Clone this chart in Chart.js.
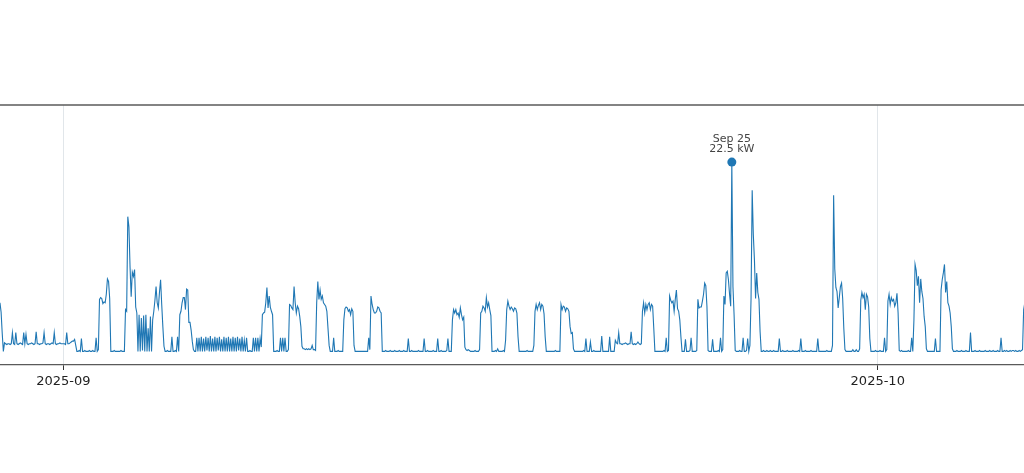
<!DOCTYPE html>
<html>
<head>
<meta charset="utf-8">
<title>Power draw, Aug 29 - Oct 6 2025</title>
<script src="https://cdn.jsdelivr.net/npm/chart.js@4.4.1/dist/chart.umd.min.js"></script>
<style>
  html, body { margin: 0; padding: 0; background: #fff; }
  canvas { display: block; }
</style>
</head>
<body>

<canvas id="myChart" width="1024" height="473"></canvas>

<script>
    // hourly power (kW), one row per day; the first row starts Aug 29 16:00
    const firstDay = -3;      // Aug 29, counted in days from Sep 1
    const firstHour = 16;
    const kwRows = [
        [6.0,4.9,2.4,0.3,1.3,1.2,1.1,1.2],                                                                   // Aug 29
        [1.2,1.1,1.2,2.5,1.2,1.1,2.5,1.2,1.1,1.2,1.3,1.2,1.1,2.5,1.2,2.3,1.2,1.1,1.2,1.2,1.3,1.2,1.1,1.2],     // Aug 30
        [2.6,1.2,1.2,1.1,1.2,1.2,1.3,2.5,1.2,1.1,1.2,1.2,1.1,1.2,1.3,1.2,2.5,1.2,1.1,1.2,1.2,1.3,1.2,1.2],     // Aug 31
        [1.2,1.2,1.1,2.5,1.2,1.2,1.3,1.4,1.5,1.5,1.7,1.0,0.3,0.3,0.4,0.3,1.8,0.3,0.3,0.4,0.3,0.3,0.3,0.4],     // Sep 1
        [0.3,0.3,0.4,0.3,0.3,1.9,0.3,0.5,6.4,6.6,6.5,5.9,6.1,6.0,7.0,8.8,8.5,6.5,0.3,0.3,0.3,0.4,0.3,0.3],     // Sep 2
        [0.3,0.3,0.3,0.4,0.3,0.3,0.3,5.2,5.0,16.1,14.9,10.2,6.7,9.6,9.1,9.9,5.5,4.8,0.3,4.6,0.3,4.2,0.4,4.5],  // Sep 3
        [0.3,4.6,0.3,3.0,0.3,4.4,0.3,4.0,5.0,6.3,7.9,6.0,5.4,7.2,8.7,5.8,3.2,0.9,0.3,0.3,0.4,0.3,0.3,0.3],     // Sep 4
        [2.0,0.3,0.3,0.4,0.3,2.0,0.3,4.6,5.0,6.0,6.6,6.6,5.2,7.6,7.5,3.7,3.7,2.8,1.5,0.5,0.3,0.3,1.9,0.3],     // Sep 5
        [1.9,0.3,2.0,0.3,1.8,0.3,2.0,0.4,1.9,0.3,2.1,0.3,1.8,0.3,2.0,0.3,1.9,0.4,2.0,0.3,1.7,0.3,2.0,0.3],     // Sep 6
        [1.9,0.3,2.0,0.3,1.8,0.3,2.0,0.3,1.9,0.3,2.0,0.4,1.8,0.3,2.0,0.3,1.6,0.3,1.9,0.3,0.3,0.4,0.3,0.3],     // Sep 7
        [1.9,0.3,1.9,0.3,1.9,0.3,1.8,0.8,4.6,4.8,4.9,6.0,7.8,5.4,6.8,5.5,5.0,4.6,0.3,0.3,0.3,0.4,0.3,0.3],     // Sep 8
        [1.9,0.3,1.9,0.3,1.9,0.3,0.3,0.5,5.8,5.7,5.4,5.2,7.9,6.0,4.8,5.6,5.3,4.4,3.2,0.9,0.6,0.6,0.5,0.6],     // Sep 9
        [0.5,0.6,0.5,0.6,1.0,0.5,0.5,0.4,6.0,8.5,6.4,7.5,6.4,6.8,6.0,5.8,5.6,5.0,3.0,1.0,0.3,0.3,0.3,1.9],     // Sep 10
        [0.3,0.3,0.3,0.4,0.3,0.3,0.3,0.3,4.0,5.3,5.5,5.4,5.0,5.2,4.6,5.3,5.0,1.0,0.3,0.3,0.3,0.3,0.3,0.3],     // Sep 11
        [0.3,0.3,0.3,0.3,0.3,0.3,1.9,0.5,6.8,5.8,5.2,4.8,4.8,5.0,5.5,5.4,5.0,4.8,0.3,0.3,0.3,0.4,0.3,0.3],     // Sep 12
        [0.3,0.4,0.3,0.3,0.3,0.4,0.3,0.3,0.3,0.4,0.3,0.3,0.3,0.4,0.3,0.3,0.3,1.8,0.3,0.3,0.4,0.3,0.3,0.3],     // Sep 13
        [0.3,0.3,0.4,0.3,0.3,0.3,0.3,1.8,0.3,0.3,0.4,0.3,0.3,0.3,0.3,0.4,0.3,0.3,0.3,1.8,0.3,0.3,0.4,0.3],     // Sep 14
        [0.3,0.3,0.3,0.4,1.8,0.3,0.3,0.3,4.0,5.2,4.8,5.2,4.6,4.8,4.3,5.4,4.6,4.0,4.3,0.8,0.5,0.4,0.5,0.4],     // Sep 15
        [0.3,0.3,0.3,0.3,0.4,0.3,0.3,0.3,0.5,4.8,5.0,5.6,5.4,5.0,6.6,5.5,6.0,5.2,4.5,0.3,0.3,0.3,0.4,0.3],     // Sep 16
        [0.6,0.3,0.3,0.3,0.3,0.4,0.3,1.6,5.2,6.2,5.6,5.2,5.5,5.3,5.0,5.4,5.3,4.8,2.0,0.3,0.3,0.3,0.3,0.3],     // Sep 17
        [0.3,0.3,0.4,0.3,0.3,0.3,0.3,0.3,1.0,5.0,5.8,5.2,5.7,6.0,5.2,5.8,5.6,4.7,2.0,0.3,0.3,0.3,0.3,0.3],     // Sep 18
        [0.3,0.3,0.3,0.4,0.3,0.3,0.3,0.3,5.8,5.2,5.6,5.5,5.0,5.4,5.3,5.0,3.2,2.4,2.5,0.6,0.3,0.3,0.3,0.3],     // Sep 19
        [0.3,0.3,0.3,0.3,0.4,0.3,1.8,0.3,0.3,0.3,1.4,0.3,0.3,0.4,0.3,0.3,0.3,0.3,0.3,0.3,2.1,0.3,0.3,0.3],     // Sep 20
        [0.3,0.3,0.3,2.0,0.3,0.3,0.3,0.3,1.6,1.3,1.2,2.5,1.2,1.2,1.1,1.2,1.2,1.3,1.2,1.1,1.2,1.2,2.6,1.2],     // Sep 21
        [1.1,1.2,1.1,1.2,1.4,1.2,1.1,1.2,5.0,6.0,4.8,5.8,5.2,5.8,6.0,5.2,5.8,5.6,3.0,0.3,0.3,0.3,0.3,0.3],     // Sep 22
        [0.3,0.3,0.3,0.4,0.3,1.9,0.3,0.4,6.8,6.3,6.0,6.2,5.0,6.4,7.5,5.3,5.0,4.0,2.0,0.3,0.3,0.3,1.7,0.3],     // Sep 23
        [0.3,0.3,0.4,1.9,0.3,0.3,0.3,0.3,0.4,6.4,5.4,5.5,5.5,6.2,7.0,8.3,8.0,5.6,0.4,0.3,0.3,0.3,1.7,0.3],     // Sep 24
        [0.3,0.3,0.3,0.4,0.3,1.9,0.3,0.5,6.8,5.8,9.5,9.7,8.7,7.0,5.6,22.5,7.9,4.6,0.4,0.3,0.3,0.3,0.4,0.3],    // Sep 25
        [0.3,1.9,0.3,0.3,0.4,1.8,0.3,1.0,6.5,19.2,14.0,11.0,6.5,9.5,7.2,6.4,2.6,0.3,0.3,0.4,0.3,0.3,0.4,0.3],  // Sep 26
        [0.3,0.4,0.3,0.3,0.4,0.3,0.3,0.3,0.3,1.8,0.3,0.3,0.4,0.3,0.3,0.3,0.4,0.3,0.3,0.3,0.3,0.4,0.3,0.3],     // Sep 27
        [0.3,0.3,0.4,0.3,1.8,0.3,0.3,0.3,0.4,0.3,0.3,0.3,0.3,0.4,0.3,0.3,0.3,0.3,0.3,1.8,0.3,0.3,0.3,0.3],     // Sep 28
        [0.3,0.3,0.3,0.4,0.3,0.3,0.3,0.3,1.0,18.6,10.0,7.8,7.3,5.4,6.6,7.9,8.3,6.5,3.0,0.5,0.3,0.3,0.3,0.3],   // Sep 29
        [0.3,0.3,0.5,0.3,0.3,0.5,0.3,0.3,0.6,6.3,7.2,6.6,7.0,5.2,7.0,6.7,5.5,1.8,0.3,0.3,0.3,0.3,0.4,0.3],     // Sep 30
        [0.3,0.3,0.4,0.3,0.3,0.3,1.9,0.3,0.5,6.2,7.0,5.8,6.6,6.2,6.4,5.6,6.0,7.1,4.8,0.4,0.3,0.4,0.3,0.3],     // Oct 1
        [0.3,0.3,0.3,0.4,0.3,0.3,1.9,0.3,4.0,10.5,9.8,8.0,9.1,6.0,8.8,7.3,6.5,4.4,3.2,0.6,0.3,0.3,0.3,0.3],    // Oct 2
        [0.3,0.3,0.3,1.8,0.3,0.3,0.3,0.3,7.5,8.7,9.5,10.5,7.2,8.5,6.0,5.6,4.8,3.2,0.6,0.3,0.3,0.3,0.4,0.3],    // Oct 3
        [0.3,0.3,0.4,0.3,0.3,0.3,0.4,0.3,0.3,0.3,2.5,0.3,0.3,0.3,0.4,0.3,0.3,0.3,0.4,0.3,0.3,0.3,0.3,0.4],     // Oct 4
        [0.3,0.3,0.3,0.4,0.3,0.3,0.4,0.3,0.3,0.3,0.4,0.3,0.3,1.9,0.3,0.3,0.4,0.3,0.4,0.3,0.3,0.4,0.3,0.4],     // Oct 5
        [0.4,0.3,0.4,0.3,0.3,0.4,0.3,0.4,0.5,5.2,6.0]                                                         // Oct 6
    ];

    // x axis in hours from 2025-09-01 00:00
    const tickHours = [0, 720];
    const tickLabels = ["2025-09", "2025-10"];
    const xMin = -55.97;
    const xMax = 849.3;
    const yMin = -1.3;
    const yMax = 29.2;

    // the highlighted maximum
    const peakHour = 24 * 24 + 15;   // Sep 25 15:00
    const peakValue = 22.5;
    const peakDay = "Sep 25";

    // Build {x, y} points from the rows
    const points = [];
    kwRows.forEach(function(row, r) {
        const start = (firstDay + r) * 24 + (r === 0 ? firstHour : 0);
        row.forEach(function(v, k) {
            points.push({ x: start + k, y: v });
        });
    });

    const blue = "#1f77b4";

    // top spine and the label above the peak
    const extras = {
        id: "extras",
        afterDraw(chart) {
            const ctx = chart.ctx;
            const area = chart.chartArea;
            ctx.save();
            ctx.strokeStyle = "#5a5a5a";
            ctx.lineWidth = 1.3;
            ctx.beginPath();
            ctx.moveTo(area.left, area.top);
            ctx.lineTo(area.right, area.top);
            ctx.stroke();

            const px = chart.scales.x.getPixelForValue(peakHour);
            const py = chart.scales.y.getPixelForValue(peakValue);
            ctx.fillStyle = "#444";
            ctx.font = "11px 'DejaVu Sans'";
            ctx.textAlign = "center";
            ctx.textBaseline = "middle";
            ctx.fillText(peakDay, px, py - 23);
            ctx.fillText(peakValue.toFixed(1) + " kW", px, py - 13);
            ctx.restore();
        }
    };

    new Chart("myChart", {
        type: "line",
        data: {
            datasets: [
                {
                    label: "peak",
                    data: [{ x: peakHour, y: peakValue }],
                    showLine: false,
                    pointRadius: 4.5,
                    pointBackgroundColor: blue,
                    pointBorderWidth: 0,
                    order: 0
                },
                {
                    label: "power",
                    data: points,
                    borderColor: blue,
                    borderWidth: 1.1,
                    pointRadius: 0,
                    tension: 0,
                    fill: false,
                    order: 1
                }
            ]
        },
        options: {
            responsive: false,
            animation: false,
            devicePixelRatio: 1,
            layout: {
                autoPadding: false,
                padding: { top: 105, left: 0, right: 0, bottom: 0 }
            },
            plugins: {
                legend: { display: false },
                tooltip: { enabled: false }
            },
            scales: {
                x: {
                    type: "linear",
                    min: xMin,
                    max: xMax,
                    afterBuildTicks: function(scale) {
                        scale.ticks = tickHours.map(function(v) { return { value: v }; });
                    },
                    afterFit: function(scale) {
                        scale.height = 108;
                    },
                    ticks: {
                        autoSkip: false,
                        maxRotation: 0,
                        padding: 4,
                        color: "#222",
                        font: { family: "DejaVu Sans", size: 13 },
                        callback: function(value) {
                            const i = tickHours.indexOf(value);
                            return i >= 0 ? tickLabels[i] : "";
                        }
                    },
                    grid: {
                        color: "#e1e6ea",
                        lineWidth: 1,
                        drawTicks: true,
                        tickLength: 5,
                        tickColor: "#333",
                        tickWidth: 1
                    },
                    border: { display: true, color: "#5a5a5a", width: 1.3 }
                },
                y: {
                    display: false,
                    min: yMin,
                    max: yMax
                }
            }
        },
        plugins: [extras]
    });
</script>

</body>
</html>
